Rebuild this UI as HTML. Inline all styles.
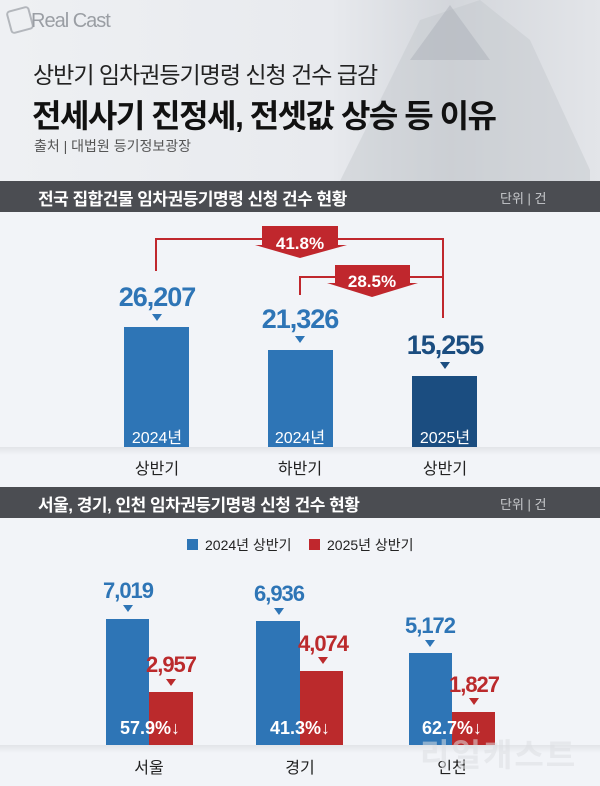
<!DOCTYPE html>
<html><head><meta charset="utf-8"><style>
body{margin:0;width:600px;height:786px;overflow:hidden;background:#f2f4f8;font-family:"Liberation Sans","Noto Sans CJK KR",sans-serif;}
.a{position:absolute;white-space:nowrap;}
.bar{position:absolute;}
.c{transform:translateX(-50%);}
.tri{position:absolute;width:0;height:0;border-left:5px solid transparent;border-right:5px solid transparent;border-top:7px solid #2e75b6;transform:translateX(-50%);}
</style></head><body>
<div class="a" style="left:0;top:0;width:600px;height:181px;background:linear-gradient(90deg,#eef0f3 0%,#e8eaee 55%,#d3d6db 75%,#e3e5e9 100%);"></div>
<svg class="a" style="left:300px;top:0" width="300" height="181"><polygon points="40,181 120,20 180,0 230,40 290,170 290,181" fill="#c3c7cd" opacity="0.45"/><polygon points="110,60 150,5 190,60" fill="#a9adb5" opacity="0.45"/></svg>
<div class="a" style="left:8px;top:8px;width:20px;height:20px;border:2px solid #9a9ea4;border-radius:4px;transform:rotate(-15deg);opacity:.7"></div>
<div class="a" style="left:31px;top:10px;font-size:20px;color:#9a9ea4;letter-spacing:-1px">Real Cast</div>
<div class="a" style="left:33px;top:56px;font-size:23px;color:#222;letter-spacing:-1px">상반기 임차권등기명령 신청 건수 급감</div>
<div class="a" style="left:32px;top:91px;font-size:32px;font-weight:bold;color:#111;letter-spacing:-1.5px">전세사기 진정세, 전셋값 상승 등 이유</div>
<div class="a" style="left:34px;top:136px;font-size:14px;color:#555">출처 | 대법원 등기정보광장</div>
<div class="a" style="left:0;top:181px;width:600px;height:31px;background:#4b4d52"></div>
<div class="a" style="left:38px;top:185px;font-size:17px;font-weight:bold;color:#fff;letter-spacing:-0.5px">전국 집합건물 임차권등기명령 신청 건수 현황</div>
<div class="a" style="left:500px;top:188px;font-size:13px;color:#c8cacd">단위 | 건</div>

<div class="a" style="left:0;top:447px;width:600px;height:35px;background:linear-gradient(#e2e4e8,#f2f4f8 8px)"></div>
<div class="bar" style="left:124px;top:327px;width:65px;height:120px;background:#2e75b6"></div>
<div class="bar" style="left:268px;top:350px;width:65px;height:97px;background:#2e75b6"></div>
<div class="bar" style="left:412px;top:376px;width:65px;height:71px;background:#1b4d80"></div>
<div class="a c" style="left:157px;top:424px;font-size:16px;color:#fff">2024년</div>
<div class="a c" style="left:300px;top:424px;font-size:16px;color:#fff">2024년</div>
<div class="a c" style="left:445px;top:424px;font-size:16px;color:#fff">2025년</div>
<div class="a c" style="left:157px;top:455px;font-size:16px;color:#222">상반기</div>
<div class="a c" style="left:300px;top:455px;font-size:16px;color:#222">하반기</div>
<div class="a c" style="left:445px;top:455px;font-size:16px;color:#222">상반기</div>
<div class="a c" style="left:157px;top:282px;font-size:27px;font-weight:bold;color:#2e75b6;letter-spacing:-1px">26,207</div>
<div class="a c" style="left:300px;top:304px;font-size:27px;font-weight:bold;color:#2e75b6;letter-spacing:-1px">21,326</div>
<div class="a c" style="left:445px;top:330px;font-size:27px;font-weight:bold;color:#1b4d80;letter-spacing:-1px">15,255</div>
<div class="tri" style="left:157px;top:314px"></div>
<div class="tri" style="left:300px;top:336px"></div>
<div class="tri" style="left:445px;top:362px;border-top-color:#1b4d80"></div>
<svg class="a" style="left:0;top:220px" width="600" height="100">
<polyline points="156,51 156,19 443,19 443,98" fill="none" stroke="#c0272d" stroke-width="2"/>
<polyline points="300,75 300,57 443,57" fill="none" stroke="#c0272d" stroke-width="2"/>
<polygon points="262,6 338,6 338,25 347,25 300,38 255,25 262,25" fill="#c0272d"/>
<polygon points="335,45 410,45 410,63 418,63 372,77 327,63 335,63" fill="#c0272d"/>
<text x="300" y="29" text-anchor="middle" font-size="17" font-weight="bold" fill="#fff" font-family="Liberation Sans">41.8%</text>
<text x="372" y="67" text-anchor="middle" font-size="17" font-weight="bold" fill="#fff" font-family="Liberation Sans">28.5%</text>
</svg>

<div class="a" style="left:0;top:487px;width:600px;height:31px;background:#4b4d52"></div>
<div class="a" style="left:38px;top:491px;font-size:17px;font-weight:bold;color:#fff;letter-spacing:-0.5px">서울, 경기, 인천 임차권등기명령 신청 건수 현황</div>
<div class="a" style="left:500px;top:494px;font-size:13px;color:#c8cacd">단위 | 건</div>
<div class="a" style="left:187px;top:539px;width:11px;height:11px;background:#2e75b6"></div>
<div class="a" style="left:205px;top:535px;font-size:14px;color:#222">2024년 상반기</div>
<div class="a" style="left:309px;top:539px;width:11px;height:11px;background:#c0272d"></div>
<div class="a" style="left:327px;top:535px;font-size:14px;color:#222">2025년 상반기</div>

<div class="a" style="left:0;top:745px;width:600px;height:41px;background:linear-gradient(#e2e4e8,#f2f4f8 8px)"></div>
<div class="bar" style="left:106px;top:619px;width:43px;height:126px;background:#2e75b6"></div>
<div class="bar" style="left:149px;top:692px;width:44px;height:53px;background:#bb2a2c"></div>
<div class="bar" style="left:256px;top:621px;width:44px;height:124px;background:#2e75b6"></div>
<div class="bar" style="left:300px;top:671px;width:43px;height:74px;background:#bb2a2c"></div>
<div class="bar" style="left:409px;top:653px;width:43px;height:92px;background:#2e75b6"></div>
<div class="bar" style="left:452px;top:712px;width:43px;height:33px;background:#bb2a2c"></div>
<div class="a c" style="left:128px;top:578px;font-size:22px;font-weight:bold;color:#2e75b6;letter-spacing:-1px">7,019</div>
<div class="a c" style="left:279px;top:581px;font-size:22px;font-weight:bold;color:#2e75b6;letter-spacing:-1px">6,936</div>
<div class="a c" style="left:430px;top:613px;font-size:22px;font-weight:bold;color:#2e75b6;letter-spacing:-1px">5,172</div>
<div class="a c" style="left:171px;top:652px;font-size:22px;font-weight:bold;color:#bb2a2c;letter-spacing:-1px">2,957</div>
<div class="a c" style="left:323px;top:631px;font-size:22px;font-weight:bold;color:#bb2a2c;letter-spacing:-1px">4,074</div>
<div class="a c" style="left:474px;top:672px;font-size:22px;font-weight:bold;color:#bb2a2c;letter-spacing:-1px">1,827</div>
<div class="tri" style="left:128px;top:605px"></div>
<div class="tri" style="left:279px;top:608px"></div>
<div class="tri" style="left:430px;top:640px"></div>
<div class="tri" style="left:171px;top:679px;border-top-color:#bb2a2c"></div>
<div class="tri" style="left:323px;top:657px;border-top-color:#bb2a2c"></div>
<div class="tri" style="left:474px;top:698px;border-top-color:#bb2a2c"></div>
<div class="a c" style="left:150px;top:718px;font-size:18px;font-weight:bold;color:#fff">57.9%↓</div>
<div class="a c" style="left:300px;top:718px;font-size:18px;font-weight:bold;color:#fff">41.3%↓</div>
<div class="a c" style="left:452px;top:718px;font-size:18px;font-weight:bold;color:#fff">62.7%↓</div>
<div class="a c" style="left:149px;top:754px;font-size:16px;color:#222">서울</div>
<div class="a c" style="left:300px;top:754px;font-size:16px;color:#222">경기</div>
<div class="a c" style="left:452px;top:754px;font-size:16px;color:#222">인천</div>
<div class="a" style="left:420px;top:730px;font-size:32px;font-weight:bold;color:rgba(220,222,226,0.55);letter-spacing:2px">리얼캐스트</div>
</body></html>
